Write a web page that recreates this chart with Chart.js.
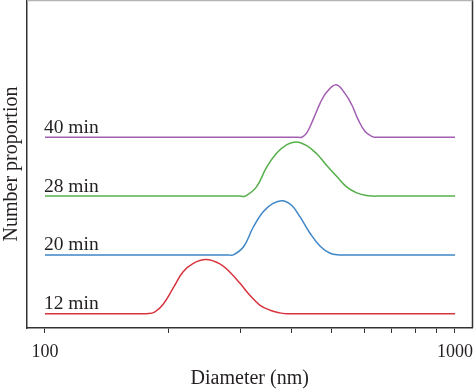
<!DOCTYPE html>
<html>
<head>
<meta charset="utf-8">
<script src="https://cdn.jsdelivr.net/npm/chart.js@4.4.1/dist/chart.umd.min.js"></script>
<style>
  html, body { margin: 0; padding: 0; background: #fff; overflow: hidden; }
  #wrap { width: 474px; height: 392px; position: relative; }
</style>
</head>
<body>
<div id="wrap"><canvas id="sizeChart"></canvas></div>
<script>
// ── DATA (diameter in nm, normalised number proportion) ──────
const SIZES_12 = [100, 168, 177, 185, 194, 206, 217, 230, 247, 267, 283, 299, 316, 334, 354, 374, 388, 400, 1000];
const PROP_12  = [0, 0, 0, 0.03, 0.17, 0.49, 0.77, 0.93, 1.0, 0.92, 0.76, 0.56, 0.34, 0.16, 0.065, 0.015, 0, 0, 0];

const SIZES_20 = [100, 280, 288, 305, 322, 341, 360, 380, 400, 419, 443, 469, 496, 524, 540, 1000];
const PROP_20  = [0, 0, 0, 0.15, 0.51, 0.80, 0.95, 1.0, 0.91, 0.70, 0.40, 0.16, 0.03, 0, 0, 0];

const SIZES_28 = [100, 298, 308, 328, 347, 367, 389, 410, 435, 460, 486, 515, 544, 576, 609, 631, 650, 1000];
const PROP_28  = [0, 0, 0, 0.17, 0.53, 0.79, 0.95, 1.0, 0.93, 0.78, 0.57, 0.36, 0.17, 0.06, 0.01, 0, 0, 0];

const SIZES_40 = [100, 415, 423, 435, 451, 469, 486, 513, 539, 560, 581, 603, 627, 638, 650, 1000];
const PROP_40  = [0, 0, 0, 0.08, 0.33, 0.63, 0.83, 0.97, 0.81, 0.60, 0.32, 0.11, 0.015, 0, 0, 0];

const SERIES_LABELS = ['12 min', '20 min', '28 min', '40 min'];
const SERIES_SIZES  = [SIZES_12, SIZES_20, SIZES_28, SIZES_40];
const SERIES_PROPS  = [PROP_12, PROP_20, PROP_28, PROP_40];

const TICK_VALUES = [100, 200, 300, 400, 500, 600, 700, 800, 900, 1000];
const TICK_LABELS = ['100', '', '', '', '', '', '', '', '', '1000'];

// ── STYLE ────────────────────────────────────────────────────
const COLORS = ['#d8343f', '#3f86c6', '#55b04a', '#a25fb2'];
const INK = '#231f20';
const FRAME = '#333333';
const SERIF = "'Liberation Serif', 'DejaVu Serif', serif";
const OFFSET_STEP = 1.085;   // vertical shift between stacked curves

const datasets = SERIES_LABELS.map((label, i) => ({
  label: label,
  data: SERIES_SIZES[i].map((s, k) => ({ x: s, y: SERIES_PROPS[i][k] + i * OFFSET_STEP })),
  borderColor: COLORS[i],
  borderWidth: 1.5,
  pointRadius: 0,
  tension: 0.4,
  fill: false,
}));

// frame + curve labels
const framePlugin = {
  id: 'framePlugin',
  afterDatasetsDraw(chart) {
    const { ctx, chartArea: a, scales: { x, y } } = chart;
    ctx.save();
    ctx.lineWidth = 1.5;
    ctx.strokeStyle = FRAME;
    ctx.beginPath();
    ctx.moveTo(a.right, a.top);
    ctx.lineTo(a.right, a.bottom);
    ctx.stroke();
    ctx.strokeStyle = '#b4b4b4';
    ctx.beginPath();
    ctx.moveTo(a.left, a.top + 0.5);
    ctx.lineTo(a.right, a.top + 0.5);
    ctx.stroke();

    ctx.font = '19.5px ' + SERIF;
    ctx.fillStyle = INK;
    ctx.textBaseline = 'alphabetic';
    SERIES_LABELS.forEach((t, i) => {
      ctx.fillText(t, x.getPixelForValue(100) - 1, y.getPixelForValue(i * OFFSET_STEP) - 4.5);
    });
    ctx.restore();
  }
};

new Chart(document.getElementById('sizeChart').getContext('2d'), {
  type: 'line',
  data: { datasets: datasets },
  options: {
    responsive: true,
    maintainAspectRatio: false,
    animation: false,
    layout: { padding: { left: 0, right: 1.5, top: 0, bottom: 0 } },
    plugins: { legend: { display: false }, tooltip: { enabled: false } },
    scales: {
      x: {
        type: 'logarithmic',
        min: 90.39,
        max: 1103.3,
        afterBuildTicks: s => { s.ticks = TICK_VALUES.map(v => ({ value: v })); },
        afterFit: s => { s.height = 64; s.paddingLeft = 0; s.paddingRight = 0; },
        grid: { display: true, drawOnChartArea: false, drawTicks: true, tickLength: 5, color: FRAME, lineWidth: 1 },
        border: { display: true, color: FRAME, width: 1.5 },
        ticks: {
          autoSkip: false,
          maxRotation: 0,
          padding: 8,
          color: INK,
          font: { family: SERIF, size: 18 },
          callback: (v, idx) => TICK_LABELS[idx]
        },
        title: {
          display: true,
          text: 'Diameter (nm)',
          color: INK,
          font: { family: SERIF, size: 20 },
          padding: { top: 0, bottom: 1 }
        }
      },
      y: {
        min: -0.2638,
        max: 5.788,
        afterFit: s => { s.width = 27; },
        grid: { display: false },
        border: { display: true, color: FRAME, width: 1.5 },
        ticks: { display: false },
        title: {
          display: true,
          text: 'Number proportion',
          color: INK,
          font: { family: SERIF, size: 20 },
          padding: { top: 0, bottom: 0 }
        }
      }
    }
  },
  plugins: [framePlugin]
});
</script>
</body>
</html>
